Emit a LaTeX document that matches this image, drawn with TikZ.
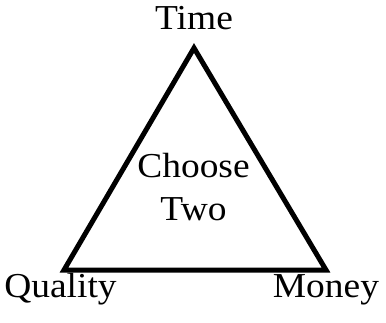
\documentclass[tikz,border=0pt]{standalone}
\usepackage{fontspec}
\setmainfont{Liberation Serif}
\usetikzlibrary{positioning, calc}

\begin{document}
\begin{tikzpicture}[x=1pt, y=-1pt]
                    \useasboundingbox (0,0) rectangle (386,322);
                    \tikzset{label text/.style={font=\fontsize{35}{43}\selectfont, inner sep=0pt, xscale=1.07}}

                    \coordinate (Vertex1) at (194,48);
                    \coordinate (Vertex2) at (64,270);
                    \coordinate (Vertex3) at (326,270);

                    \node[label text, anchor=base] (Time) at (194,29) {Time};
                    \node[label text, anchor=base] (Quality) at (60.5,297) {Quality};
                    \node[label text, anchor=base] (Money) at (326,297) {Money};
                    \node[label text, align=center] (Choose) at (193.5,187) {Choose\\Two};

                    \draw[line width=5pt] (Vertex1) -- (Vertex2) -- (Vertex3) -- cycle;
                \end{tikzpicture}
\end{document}
